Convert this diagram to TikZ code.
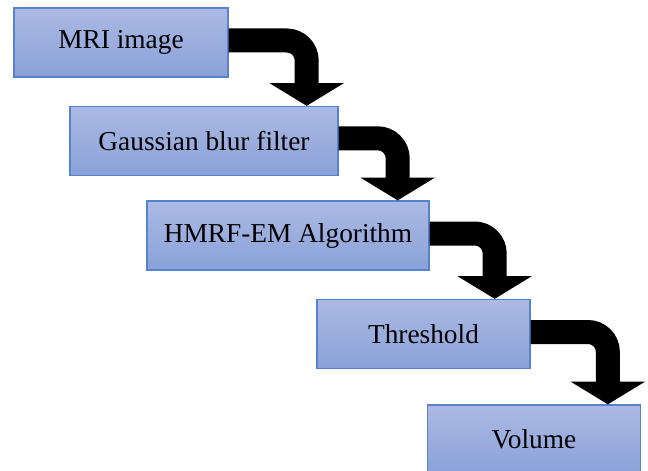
\documentclass[tikz,border=0pt]{standalone}
\usepackage{fontspec}
\setmainfont{Liberation Serif}
\usetikzlibrary{arrows.meta}

\definecolor{boxtop}{RGB}{172,186,228}
\definecolor{boxbot}{RGB}{138,161,216}
\definecolor{boxline}{RGB}{86,130,206}

\tikzset{
    stepbox/.style={draw=boxline, line width=1pt, top color=boxtop, bottom color=boxbot,
        minimum height=51.75pt, inner sep=0pt, font=\fontsize{20.5}{24}\selectfont},
    bentarrow/.style={line width=18pt, rounded corners=15pt,
        -{Triangle[width=55pt, length=17pt]}}
}

\begin{document}
\begin{tikzpicture}[x=0.75pt, y=-0.75pt]

            \useasboundingbox (0,0) rectangle (648,470);

            \node[stepbox, minimum width=160.5pt] (mri) at (121,42.5) {MRI image};
            \node[stepbox, minimum width=201pt] (blur) at (204,141) {Gaussian blur filter};
            \node[stepbox, minimum width=211.5pt] (hmrf) at (288,235.5) {HMRF-EM Algorithm};
            \node[stepbox, minimum width=159.75pt] (thr) at (423.5,334) {Threshold};
            \node[stepbox, minimum width=159.75pt] (vol) at (534,439.5) {Volume};

            % bent arrows between the steps
            \draw[bentarrow] ([yshift=1.5pt]mri.east) -| ([xshift=-24pt]blur.north east);
            \draw[bentarrow] ([yshift=2pt]blur.east) -| ([xshift=-24pt]hmrf.north east);
            \draw[bentarrow] ([yshift=1.5pt]hmrf.east) -| ([xshift=-27pt]thr.north east);
            \draw[bentarrow] ([yshift=1.5pt]thr.east) -| ([xshift=-25pt]vol.north east);

            \end{tikzpicture}
\end{document}
